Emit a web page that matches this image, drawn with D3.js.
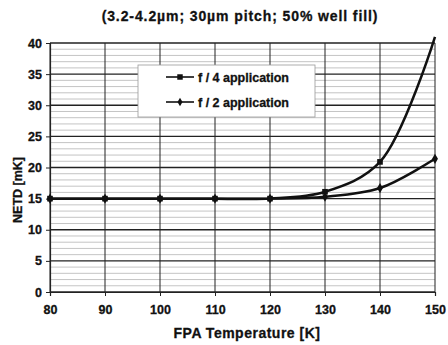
<!DOCTYPE html>
<html>
<head>
<meta charset="utf-8">
<script src="https://cdn.jsdelivr.net/npm/d3@7"></script>
<style>
  body { margin: 0; background: #fff; }
  text { font-family: "Liberation Sans", Arial, sans-serif; font-weight: bold; fill: #111; stroke: #111; stroke-width: 0.3; }
</style>
</head>
<body>
<div id="chart-container"></div>
<script>
// NETD vs FPA temperature, two optics cases
const temps = [80, 90, 100, 110, 120, 130, 140, 150];
const f4 = [15, 15, 15, 15, 15, 16.1, 20.9, 41];
const f2 = [15, 15, 15, 15, 15, 15.3, 16.7, 21.4];
const xTicks = [80, 90, 100, 110, 120, 130, 140, 150];
const yTicks = [0, 5, 10, 15, 20, 25, 30, 35, 40];
const legendNames = ["f / 4 application", "f / 2 application"];

const svgWidth = 448;
const svgHeight = 345;
const margin = { top: 43, right: 13, bottom: 53, left: 50 };
const width = svgWidth - margin.left - margin.right;
const height = svgHeight - margin.top - margin.bottom;

const root = d3.select("#chart-container")
    .append("svg")
    .attr("width", svgWidth)
    .attr("height", svgHeight);

const svg = root.append("g")
    .attr("transform", `translate(${margin.left},${margin.top})`);

const x = d3.scaleLinear().domain([80, 150]).range([0, width]);
const y = d3.scaleLinear().domain([0, 40]).range([height, 0]);

// minor grid (the scan has a lot of faint horizontal lines)
svg.append("g")
    .selectAll("line")
    .data(d3.range(1, 40).filter(v => v % 5 !== 0))
    .join("line")
    .attr("x1", 0).attr("x2", width)
    .attr("y1", d => y(d)).attr("y2", d => y(d))
    .attr("stroke", "#aaa")
    .attr("stroke-width", 0.7);

// major grid
svg.append("g")
    .selectAll("line")
    .data(yTicks)
    .join("line")
    .attr("x1", 0).attr("x2", width)
    .attr("y1", d => y(d)).attr("y2", d => y(d))
    .attr("stroke", "#222")
    .attr("stroke-width", 1.4);

svg.append("g")
    .selectAll("line")
    .data(xTicks)
    .join("line")
    .attr("x1", d => x(d)).attr("x2", d => x(d))
    .attr("y1", 0).attr("y2", height)
    .attr("stroke", "#222")
    .attr("stroke-width", 1);

// axes
const xAxis = svg.append("g")
    .attr("transform", `translate(0,${height})`)
    .call(d3.axisBottom(x).tickValues(xTicks).tickSize(4).tickPadding(9));
const yAxis = svg.append("g")
    .call(d3.axisLeft(y).tickValues(yTicks).tickSize(4).tickPadding(4));
[xAxis, yAxis].forEach(a => {
    a.selectAll("text").style("font-size", "12.5px").attr("fill", "#111");
    a.selectAll("line").attr("stroke", "#222");
    a.select(".domain").attr("stroke", "#222").attr("stroke-width", 1.2);
});

// lines
const line = d3.line()
    .x(d => x(d[0]))
    .y(d => y(d[1]))
    .curve(d3.curveCatmullRom.alpha(0.5));

const clip = root.append("clipPath").attr("id", "clip")
    .append("rect").attr("x", -5).attr("y", -10).attr("width", width + 10).attr("height", height + 15);

const series = [
    { name: legendNames[0], vals: f4, marker: "square" },
    { name: legendNames[1], vals: f2, marker: "diamond" }
];

series.forEach(s => {
    const pts = temps.map((t, i) => [t, s.vals[i]]);
    svg.append("path")
        .datum(pts)
        .attr("d", line)
        .attr("fill", "none")
        .attr("stroke", "#111")
        .attr("stroke-width", 2.5)
        .attr("clip-path", "url(#clip)");
    svg.append("g")
        .selectAll("path")
        .data(pts.filter(p => p[1] <= 40))
        .join("path")
        .attr("transform", d => `translate(${x(d[0])},${y(d[1])})`)
        .attr("d", d3.symbol().type(s.marker === "square" ? d3.symbolSquare : d3.symbolDiamond).size(s.marker === "square" ? 32 : 30))
        .attr("fill", "#111");
});

// legend
const legend = svg.append("g").attr("transform", `translate(${138 - margin.left},${65 - margin.top})`);
legend.append("rect")
    .attr("width", 177).attr("height", 52)
    .attr("fill", "#fff")
    .attr("stroke", "#999")
    .attr("stroke-width", 0.8);
series.forEach((s, i) => {
    const ly = 12 + i * 25;
    legend.append("line")
        .attr("x1", 28).attr("x2", 56)
        .attr("y1", ly).attr("y2", ly)
        .attr("stroke", "#111").attr("stroke-width", 1.6);
    legend.append("path")
        .attr("transform", `translate(42,${ly})`)
        .attr("d", d3.symbol().type(s.marker === "square" ? d3.symbolSquare : d3.symbolDiamond).size(s.marker === "square" ? 30 : 22))
        .attr("fill", "#111");
    legend.append("text")
        .text(s.name)
        .attr("x", 60)
        .attr("y", ly + 4.5)
        .style("font-size", "12.5px");
});

// titles
root.append("text")
    .text("(3.2-4.2µm; 30µm pitch; 50% well fill)")
    .attr("x", 240)
    .attr("y", 21)
    .attr("text-anchor", "middle")
    .style("font-size", "14px")
    .style("letter-spacing", "0.9px");

root.append("text")
    .text("FPA Temperature [K]")
    .attr("x", 247)
    .attr("y", 338)
    .attr("text-anchor", "middle")
    .style("font-size", "14px")
    .style("letter-spacing", "0.5px");

root.append("text")
    .text("NETD  [mK]")
    .attr("transform", "translate(22,190) rotate(-90)")
    .attr("text-anchor", "middle")
    .style("font-size", "12.5px");
</script>
</body>
</html>
